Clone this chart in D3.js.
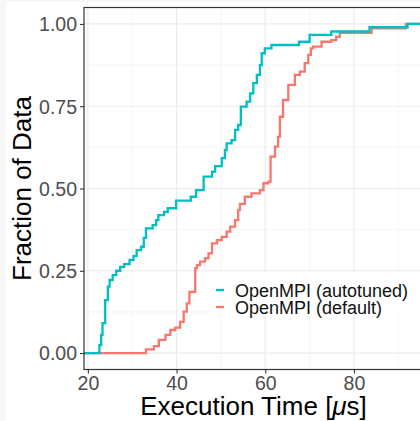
<!DOCTYPE html>
<html>
<head>
<meta charset="utf-8">
<script src="https://cdn.jsdelivr.net/npm/d3@7"></script>
<style>
  body { margin: 0; background: #f7f7f7; }
  svg { display: block; }
</style>
</head>
<body>
<svg width="420" height="421"></svg>
<script>
// step points of the empirical CDFs (time in us, fraction reached at that time)
var autotunedTime = [22.6, 23.0, 23.3, 23.9, 24.5, 24.9, 25.6, 26.4, 27.3, 28.2, 29.4, 30.3, 31.0, 32.0, 32.6, 33.1,
    34.6, 35.4, 35.9, 37.2, 38.0, 39.9, 43.2, 44.4, 46.1, 48.0, 48.7, 50.2, 50.9, 51.3, 52.4, 53.2, 53.9, 54.5,
    55.8, 56.6, 57.3, 58.1, 58.8, 59.2, 59.9, 61.4, 67.6, 70.0, 74.9, 83.5, 92.1];
var autotunedFrac = [0.024, 0.055, 0.091, 0.161, 0.202, 0.222, 0.237, 0.250, 0.262, 0.270, 0.283, 0.295, 0.313, 0.323, 0.350, 0.379,
    0.389, 0.404, 0.419, 0.429, 0.440, 0.463, 0.475, 0.495, 0.536, 0.551, 0.568, 0.592, 0.617, 0.637, 0.647, 0.678, 0.693, 0.749,
    0.764, 0.789, 0.820, 0.845, 0.875, 0.911, 0.926, 0.936, 0.946, 0.967, 0.977, 0.990, 1.0];

var defaultTime = [33.1, 34.9, 36.0, 37.5, 38.6, 39.7, 40.8, 41.6, 42.3, 42.9, 44.2, 44.6, 45.3, 46.4, 47.2, 48.0,
    49.1, 50.2, 51.3, 52.1, 53.2, 53.9, 54.3, 55.4, 56.9, 58.8, 59.6, 60.7, 61.2, 62.2, 62.9, 63.3, 64.0,
    65.2, 66.7, 67.8, 68.9, 69.7, 70.3, 70.8, 72.7, 74.9, 76.0, 76.8, 84.0, 91.7];
var defaultFrac = [0.011, 0.021, 0.040, 0.055, 0.070, 0.077, 0.095, 0.126, 0.151, 0.186, 0.257, 0.267, 0.278, 0.288, 0.303, 0.333,
    0.343, 0.353, 0.369, 0.384, 0.404, 0.435, 0.453, 0.475, 0.485, 0.495, 0.516, 0.521, 0.597, 0.627, 0.657, 0.718, 0.769,
    0.815, 0.845, 0.855, 0.881, 0.906, 0.926, 0.931, 0.946, 0.951, 0.961, 0.973, 0.987, 1.0];

var seriesNames = ['OpenMPI (autotuned)', 'OpenMPI (default)'];
var seriesColors = ['#00BFC4', '#F8766D'];
var xTicks = [20, 40, 60, 80];
var xMinor = [30, 50, 70, 90];
var yTicks = [0, 0.25, 0.5, 0.75, 1];
var yMinor = [0.125, 0.375, 0.625, 0.875];

var svg = d3.select('svg');
svg.append('rect').attr('x', 6).attr('y', 2).attr('width', 414).attr('height', 419).attr('fill', '#fff');

var panel = { left: 84, top: 7.5, right: 423, bottom: 369.5 };

var allTime = autotunedTime.concat(defaultTime);
var ext = d3.extent(allTime);
var pad = (ext[1] - ext[0]) * 0.05;
var x = d3.scaleLinear().domain([ext[0] - pad, ext[1] + pad]).range([panel.left, panel.right]);
var y = d3.scaleLinear().domain([-0.05, 1.05]).range([panel.bottom, panel.top]);

var g = svg.append('g');

// grid
g.selectAll('.xminor').data(xMinor).enter().append('line')
    .attr('x1', function(d) { return x(d); }).attr('x2', function(d) { return x(d); })
    .attr('y1', panel.top).attr('y2', panel.bottom)
    .attr('stroke', '#f0f0f0').attr('stroke-width', 0.7);
g.selectAll('.yminor').data(yMinor).enter().append('line')
    .attr('y1', function(d) { return y(d); }).attr('y2', function(d) { return y(d); })
    .attr('x1', panel.left).attr('x2', panel.right)
    .attr('stroke', '#f0f0f0').attr('stroke-width', 0.7);
g.selectAll('.xmajor').data(xTicks).enter().append('line')
    .attr('x1', function(d) { return x(d); }).attr('x2', function(d) { return x(d); })
    .attr('y1', panel.top).attr('y2', panel.bottom)
    .attr('stroke', '#ebebeb').attr('stroke-width', 1.2);
g.selectAll('.ymajor').data(yTicks).enter().append('line')
    .attr('y1', function(d) { return y(d); }).attr('y2', function(d) { return y(d); })
    .attr('x1', panel.left).attr('x2', panel.right)
    .attr('stroke', '#ebebeb').attr('stroke-width', 1.2);

// ecdf lines, padded to the panel edges like stat_ecdf
var line = d3.line()
    .x(function(d) { return x(d[0]); })
    .y(function(d) { return y(d[1]); })
    .curve(d3.curveStepAfter);

function steps(times, fracs) {
    var pts = [[x.domain()[0], 0]];
    times.forEach(function(t, i) { pts.push([t, fracs[i]]); });
    pts.push([x.domain()[1], 1]);
    return pts;
}

g.append('path')
    .datum(steps(defaultTime, defaultFrac))
    .attr('fill', 'none').attr('stroke', seriesColors[1]).attr('stroke-width', 2.3)
    .attr('d', line);
g.append('path')
    .datum(steps(autotunedTime, autotunedFrac))
    .attr('fill', 'none').attr('stroke', seriesColors[0]).attr('stroke-width', 2.3)
    .attr('d', line);

// legend
var leg = g.append('g');
leg.append('rect').attr('x', 208).attr('y', 272).attr('width', 212).attr('height', 43).attr('fill', '#fff');
seriesNames.forEach(function(name, i) {
    var cy = 290 + i * 17;
    leg.append('line').attr('x1', 216).attr('x2', 224).attr('y1', cy).attr('y2', cy)
        .attr('stroke', seriesColors[i]).attr('stroke-width', 2.3);
    leg.append('text').attr('x', 235).attr('y', cy + 6.5)
        .attr('font-family', 'Liberation Sans, Arial, sans-serif').attr('font-size', 18)
        .attr('fill', '#111').text(name);
});

// panel border
g.append('rect')
    .attr('x', panel.left).attr('y', panel.top)
    .attr('width', panel.right - panel.left).attr('height', panel.bottom - panel.top)
    .attr('fill', 'none').attr('stroke', '#333').attr('stroke-width', 1.2);

// axes
var xAxis = svg.append('g')
    .attr('transform', 'translate(0,' + panel.bottom + ')')
    .call(d3.axisBottom(x).tickValues(xTicks).tickSize(4).tickPadding(3));
var yAxis = svg.append('g')
    .attr('transform', 'translate(' + panel.left + ',0)')
    .call(d3.axisLeft(y).tickValues(yTicks).tickSize(4).tickPadding(3).tickFormat(d3.format('.2f')));
[xAxis, yAxis].forEach(function(a) {
    a.select('.domain').remove();
    a.selectAll('.tick line').attr('stroke', '#333').attr('stroke-width', 1.1);
    a.selectAll('.tick text').attr('fill', '#4d4d4d')
        .attr('font-family', 'Liberation Sans, Arial, sans-serif').attr('font-size', 19.5);
});
yAxis.selectAll('.tick text').attr('dy', '0.35em');

// titles
svg.append('text')
    .attr('x', (panel.left + panel.right) / 2).attr('y', 415)
    .attr('text-anchor', 'middle')
    .attr('font-family', 'Liberation Sans, Arial, sans-serif').attr('font-size', 26)
    .attr('fill', '#000')
    .html('Execution Time [<tspan font-style="italic">μ</tspan>s]');
svg.append('text')
    .attr('transform', 'translate(31,' + (panel.top + panel.bottom) / 2 + ') rotate(-90)')
    .attr('text-anchor', 'middle')
    .attr('font-family', 'Liberation Sans, Arial, sans-serif').attr('font-size', 26)
    .attr('fill', '#000')
    .text('Fraction of Data');
</script>
</body>
</html>
